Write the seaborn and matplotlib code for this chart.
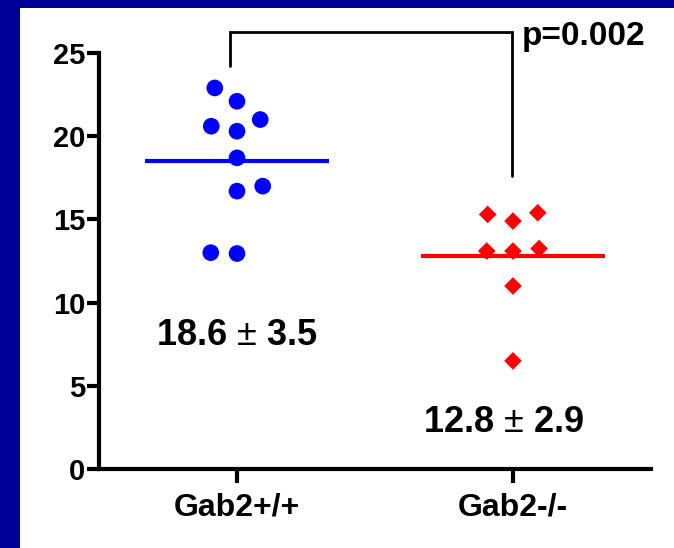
import numpy as np
import pandas as pd
import matplotlib
matplotlib.use("Agg")
import matplotlib.pyplot as plt
from matplotlib.patches import Rectangle
import seaborn as sns

# ---- data ----
groups = ["Gab2+/+", "Gab2-/-"]
wt_values = [22.9, 22.1, 21.0, 20.6, 20.3, 18.7, 17.0, 16.7, 12.95, 13.0]
ko_values = [15.3, 14.9, 15.4, 13.1, 13.1, 13.25, 11.0, 6.5]
summary_labels = ["18.6 $\\pm$ 3.5", "12.8 $\\pm$ 2.9"]
p_label = "p=0.002"
y_ticks = [0, 5, 10, 15, 20, 25]

sns.set_theme(style="white")
plt.rcParams["font.family"] = ["Liberation Sans", "DejaVu Sans"]
plt.rcParams["font.weight"] = "bold"
plt.rcParams["mathtext.fontset"] = "custom"
plt.rcParams["mathtext.rm"] = "Liberation Sans:weight=normal"
plt.rcParams["mathtext.it"] = "Liberation Sans:weight=normal"
plt.rcParams["mathtext.bf"] = "Liberation Sans:weight=bold"

navy = "#000096"
fig = plt.figure(figsize=(6.74, 5.48), dpi=100, facecolor=navy)
fig.patches.append(Rectangle((20 / 674, 0), 1, (548 - 8) / 548,
                             transform=fig.transFigure, facecolor="white",
                             edgecolor="none", zorder=-10))
ax = fig.add_axes([99 / 674, 79 / 548, 552 / 674, 416 / 548])
ax.set_zorder(5)
ax.set_facecolor("white")

df = pd.DataFrame({
    "group": [groups[0]] * len(wt_values) + [groups[1]] * len(ko_values),
    "value": wt_values + ko_values,
})

colors = ["#0000FF", "#FF0000"]
markers = ["o", "D"]
sizes = [12, 9]
# invisible edge widens the swarm spacing (column-scatter look)
edges = [6, 9]
for g, c, m, s, e in zip(groups, colors, markers, sizes, edges):
    sns.swarmplot(data=df[df["group"] == g], x="group", y="value", order=groups,
                  color=c, marker=m, size=s, linewidth=e, edgecolor="none",
                  ax=ax, zorder=3)

means = df.groupby("group")["value"].mean().reindex(groups).values
for i, (mval, c) in enumerate(zip(means, colors)):
    ax.hlines(mval, i - 0.333, i + 0.333, color=c, lw=3, zorder=2)

# summary texts
ax.text(0, 7.45, summary_labels[0], ha="center", va="baseline",
        fontsize=26, fontweight="bold", color="black")
ax.text(0.964, 2.22, summary_labels[1], ha="center", va="baseline",
        fontsize=26, fontweight="bold", color="black")

# significance bracket
ax.plot([-0.025, -0.025, 0.996, 0.996], [24.2, 26.26, 26.26, 17.6],
        color="black", lw=2, clip_on=False, solid_joinstyle="miter")
ax.text(1.033, 25.5, p_label, ha="left", va="baseline", fontsize=24,
        fontweight="bold", color="black", clip_on=False)

ax.set_xlim(-0.5, 1.5)
ax.set_ylim(0, 25)
ax.set_yticks(y_ticks)
ax.set_yticklabels([str(t) for t in y_ticks])
ax.set_xlabel("")
ax.set_ylabel("")
sns.despine(ax=ax)
for sp in ["left", "bottom"]:
    ax.spines[sp].set_linewidth(3)
    ax.spines[sp].set_color("black")
ax.tick_params(axis="y", direction="out", length=9, width=3, pad=1,
               labelsize=21, colors="black", left=True)
ax.tick_params(axis="x", direction="out", length=10, width=3, pad=7,
               labelsize=23, colors="black", bottom=True)
for lab in ax.get_xticklabels() + ax.get_yticklabels():
    lab.set_fontweight("bold")

fig.savefig("out.png", dpi=100, facecolor=navy)
